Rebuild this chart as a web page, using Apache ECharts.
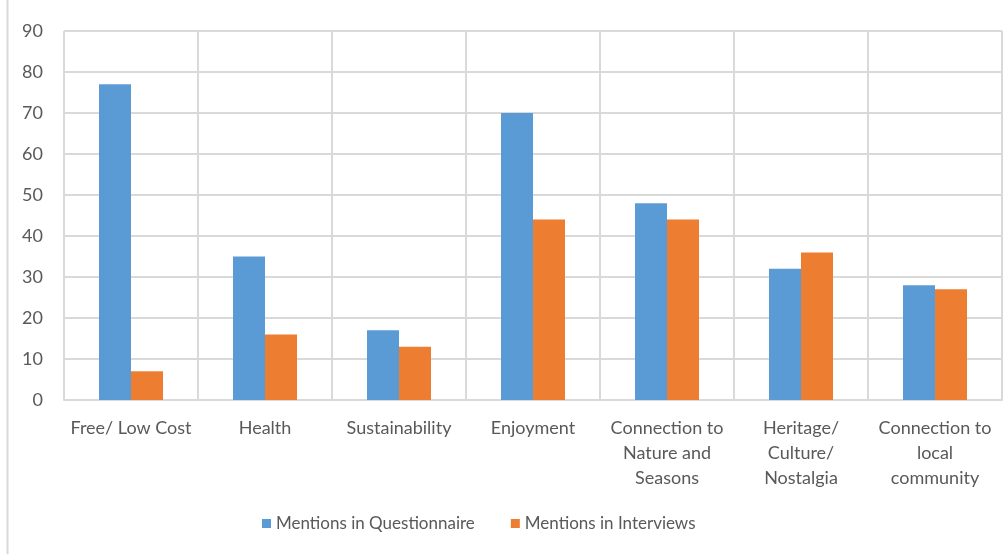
<!DOCTYPE html>
<html>
<head>
<meta charset="utf-8">
<script src="https://cdn.jsdelivr.net/npm/echarts@6/dist/echarts.min.js"></script>
<style>html,body{margin:0;padding:0;background:#fff}#c{width:1005px;height:554px}</style>
</head>
<body>
<div id="c"></div>
<script>
const categories = ["Free/ Low Cost", "Health", "Sustainability", "Enjoyment", "Connection to\nNature and\nSeasons", "Heritage/\nCulture/\nNostalgia", "Connection to\nlocal\ncommunity"];
const seriesNames = ["Mentions in Questionnaire", "Mentions in Interviews"];
const questionnaire = [77, 35, 17, 70, 48, 32, 28];
const interviews = [7, 16, 13, 44, 44, 36, 27];
const yTicks = {min: 0, max: 90, interval: 10};

const font = "Lato, 'Liberation Sans', sans-serif";
const chart = echarts.init(document.getElementById('c'), null, {renderer: 'canvas'});
chart.setOption({
  animation: false,
  backgroundColor: '#fff',
  textStyle: {fontFamily: font},
  grid: {left: 64, right: 3, top: 31, bottom: 154, containLabel: false},
  graphic: [{type: 'line', shape: {x1: 7.5, y1: 0, x2: 7.5, y2: 554}, style: {stroke: '#d9d9d9', lineWidth: 2}}],
  legend: {
    top: 510, left: 257,
    itemWidth: 9, itemHeight: 9, itemGap: 36,
    icon: 'rect',
    textStyle: {fontSize: 17, color: '#595959', fontFamily: font},
    data: seriesNames
  },
  xAxis: {
    type: 'category', data: categories,
    axisLine: {show: true, lineStyle: {color: '#d9d9d9', width: 2}},
    axisTick: {show: false},
    splitLine: {show: true, interval: 0, lineStyle: {color: '#d9d9d9', width: 2}},
    axisLabel: {interval: 0, fontSize: 18, color: '#595959', margin: 16, lineHeight: 25, fontFamily: font}
  },
  yAxis: {
    type: 'value', min: yTicks.min, max: yTicks.max, interval: yTicks.interval,
    axisLine: {show: false}, axisTick: {show: false},
    splitLine: {show: true, lineStyle: {color: '#d9d9d9', width: 2}},
    axisLabel: {fontSize: 18, color: '#595959', margin: 21, fontFamily: font}
  },
  series: [
    {name: seriesNames[0], type: 'bar', data: questionnaire, barWidth: 32, barGap: '0%', itemStyle: {color: '#5B9BD5'}},
    {name: seriesNames[1], type: 'bar', data: interviews, barWidth: 32, barGap: '0%', itemStyle: {color: '#ED7D31'}}
  ]
});
</script>
</body>
</html>
